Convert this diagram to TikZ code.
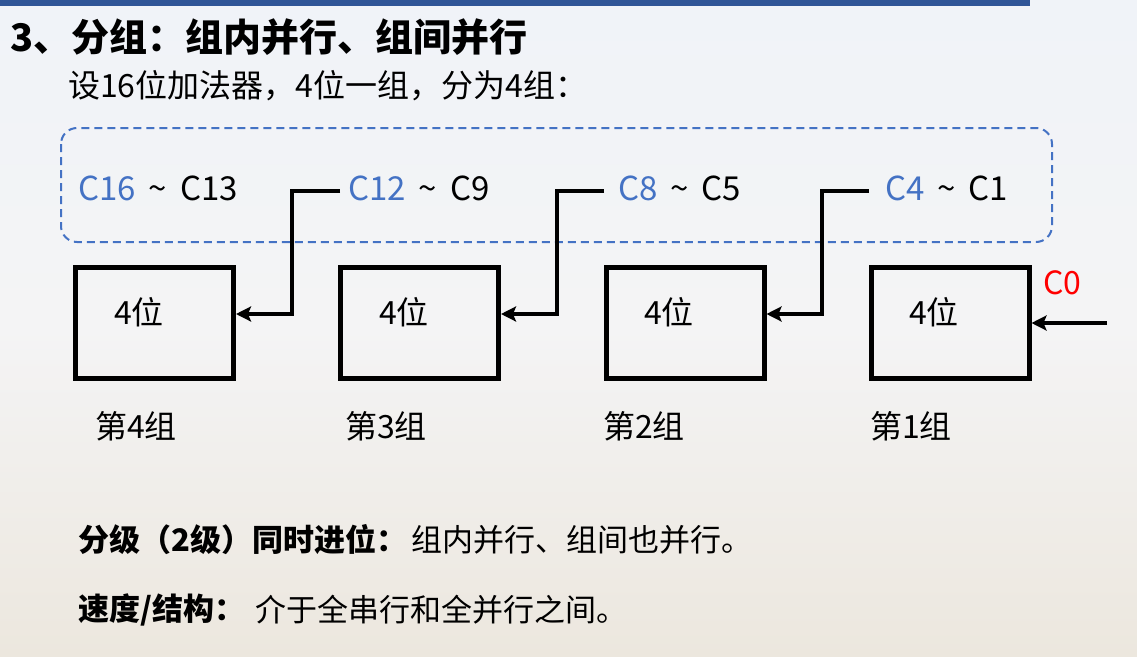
\documentclass[tikz,border=0pt]{standalone}
\usepackage{fontspec}
\setmainfont{Noto Sans CJK SC}
\usetikzlibrary{arrows.meta}
\definecolor{cblue}{HTML}{4472C4}
\definecolor{barblue}{HTML}{2F5597}
\definecolor{cred}{HTML}{FF0000}
\tikzstyle{adder}=[draw, line width=5pt, minimum width=158pt, minimum height=111pt, inner sep=0pt]
\tikzstyle{txt}=[anchor=west, inner sep=0pt, font=\fontsize{32}{38}\selectfont]
\tikzstyle{link}=[line width=4.5pt, -{Stealth[length=15pt,width=15pt,inset=3pt]}]
\newcommand{\adder}{\node[adder]}
\newcommand{\til}{\hspace{13pt}\textasciitilde\hspace{13pt}}

\begin{document}
\begin{tikzpicture}[x=1pt, y=-1pt]
            % page and background
            \useasboundingbox (0,0) rectangle (1137,656);
            \shade[top color={rgb,255:red,240;green,243;blue,248}, bottom color={rgb,255:red,236;green,231;blue,222}, middle color={rgb,255:red,244;green,244;blue,245}] (0,0) rectangle (1137,656);
            \fill[barblue] (0,0) rectangle (1030,6);
            % texts
            \node[txt, font=\fontsize{38}{44}\selectfont\bfseries] (title) at (10,37) {3、分组：组内并行、组间并行};
            \node[txt] (sub) at (68,86) {设16位加法器，4位一组，分为4组：};
            \draw[cblue, line width=2pt, dash pattern=on 8pt off 5pt, rounded corners=16pt] (61,128) rectangle (1052,242);
            \node[txt, font=\fontsize{33}{38}\selectfont] (c16) at (78,188) {{\color{cblue}C16}\til C13};
            \node[txt, font=\fontsize{33}{38}\selectfont] (c12) at (348,188) {{\color{cblue}C12}\til C9};
            \node[txt, font=\fontsize{33}{38}\selectfont] (c8) at (618,188) {{\color{cblue}C8}\til C5};
            \node[txt, font=\fontsize{33}{38}\selectfont] (c4) at (885,188) {{\color{cblue}C4}\til C1};
            % the four groups
            \adder (g4) at (154.5,323){};
            \adder (g3) at (419.5,323){};
            \adder (g2) at (685,323){};
            \adder (g1) at (950,323){};
            \node[txt] (w4) at (114,312) {4位};
            \node[txt] (w3) at (379,312) {4位};
            \node[txt] (w2) at (644,312) {4位};
            \node[txt] (w1) at (909,312) {4位};
            \node[txt] (n4) at (95,426) {第4组};
            \node[txt] (n3) at (345,426) {第3组};
            \node[txt] (n2) at (603,426) {第2组};
            \node[txt] (n1) at (870,426) {第1组};
            \node[txt, text=cred] (c0) at (1043,283) {C0};
            % carries
            \coordinate (k4) at (292,314);
            \coordinate (k3) at (557,314);
            \coordinate (k2) at (822,314);
            \coordinate (cin) at (1107,323);
            \draw[link] ([xshift=-8pt,yshift=-3pt]c12.west) -| (k4) -- (k4 -| g4.east);
            \draw[link] ([xshift=-14pt,yshift=-3pt]c8.west) -| (k3) -- (k3 -| g3.east);
            \draw[link] ([xshift=-16pt,yshift=-3pt]c4.west) -| (k2) -- (k2 -| g2.east);
            \draw[link] (cin) -- (g1.east);
            % notes
            \node[txt, font=\fontsize{31}{36}\selectfont\bfseries] (lvl) at (78,540) {分级（2级）同时进位：};
            \node[txt, font=\fontsize{31}{36}\selectfont] (lvlx) at (411,540) {组内并行、组间也并行。};
            \node[txt, font=\fontsize{31}{36}\selectfont\bfseries] (spd) at (78,610) {速度/结构：};
            \node[txt, font=\fontsize{31}{36}\selectfont] (spdx) at (255,610) {介于全串行和全并行之间。};
        \end{tikzpicture}
\end{document}
